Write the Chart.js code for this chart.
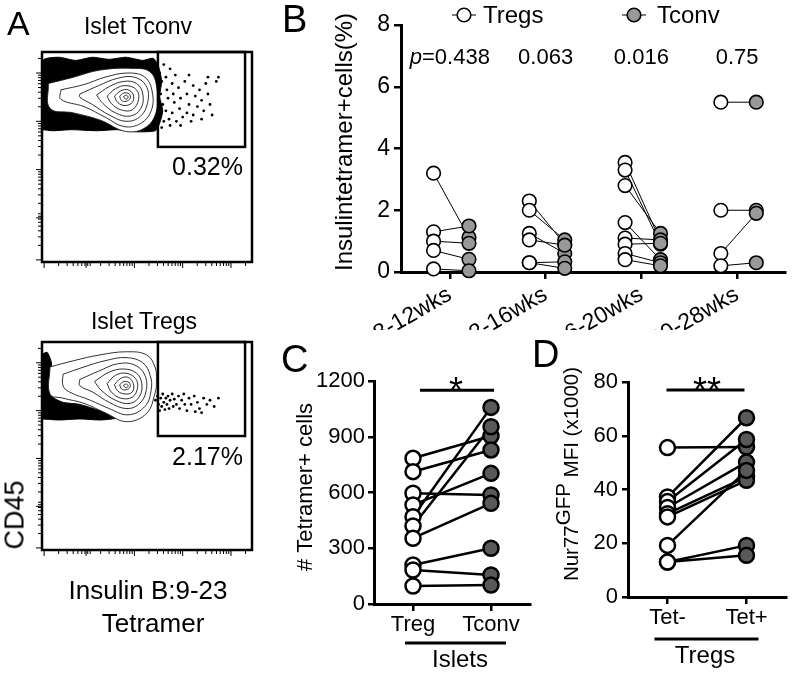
<!DOCTYPE html>
<html lang="en">
  <head>
    <meta charset="UTF-8" />
    <title>Insulin tetramer+ Tregs and Tconv</title>
    <script src="https://cdn.jsdelivr.net/npm/chart.js@4.4.1/dist/chart.umd.min.js"></script>
  </head>

  <style>
    html,
    body {
      margin: 0;
      padding: 0;
      background: #fff;
    }
    body {
      position: relative;
      width: 796px;
      height: 676px;
      overflow: hidden;
      color: #000;
      font-family: "Liberation Sans", Arial, sans-serif;
    }
    canvas {
      position: absolute;
    }
    .lbl {
      position: absolute;
      white-space: nowrap;
      line-height: 1;
    }
  </style>

  <body>
    <canvas id="flowTconv" width="270" height="300" style="left: 0; top: 0"></canvas>
    <canvas id="flowTreg" width="270" height="300" style="left: 0; top: 290px"></canvas>
    <canvas id="chartB" width="526" height="330" style="left: 270px; top: 0"></canvas>
    <canvas id="chartC" width="270" height="346" style="left: 270px; top: 330px"></canvas>
    <canvas id="chartD" width="256" height="346" style="left: 540px; top: 330px"></canvas>

    <div class="lbl" style="left: 7px; top: 6px; font-size: 34px">A</div>
    <div class="lbl" style="left: 282px; top: 0px; font-size: 38px">B</div>
    <div class="lbl" style="left: 281px; top: 340px; font-size: 38px">C</div>
    <div class="lbl" style="left: 532px; top: 335px; font-size: 38px">D</div>

    <div class="lbl" style="left: 138px; top: 15px; font-size: 23px; transform: translateX(-50%)">Islet Tconv</div>
    <div class="lbl" style="left: 243px; top: 154px; font-size: 25px; transform: translateX(-100%)">0.32%</div>
    <div class="lbl" style="left: 144px; top: 310px; font-size: 23px; transform: translateX(-50%)">Islet Tregs</div>
    <div class="lbl" style="left: 243px; top: 444px; font-size: 25px; transform: translateX(-100%)">2.17%</div>
    <div class="lbl" style="left: 15px; top: 515px; font-size: 27px; transform: translate(-50%, -50%) rotate(-90deg)">CD45</div>
    <div class="lbl" style="left: 148px; top: 577px; font-size: 26px; transform: translateX(-50%)">Insulin B:9-23</div>
    <div class="lbl" style="left: 153px; top: 610px; font-size: 26px; transform: translateX(-50%)">Tetramer</div>

    <script>
      const FONT = '"Liberation Sans", Arial, sans-serif';
      Chart.defaults.font.family = FONT;
      Chart.defaults.color = "#000";

      // ---------- A: flow plots (display units 0-100, x = tetramer, y = CD45) ----------
      const flowDecades = [1, 21, 44, 67, 90];
      const flowGate = { x: [55.2, 96.7], y: [54.8, 100] };

      const tconvDense = [
        [0.5, 63], [0.5, 96], [8, 97.5], [16, 96], [24, 97.5], [32, 96.5], [40, 97.5], [48, 96],
        [53, 97], [55.5, 93], [57, 86], [56, 79], [57.5, 72], [56, 66], [54, 62.5], [45, 62],
        [36, 63], [26, 62.5], [14, 63], [5, 62.5],
      ];
      const tconvContours = [
        [[3, 85], [15, 88], [27.6, 91.4], [43.5, 92.2], [51.4, 90.6], [54.6, 83.5], [54.6, 72.4], [49.8, 64.4], [40.3, 62.1], [27.6, 67.6], [15, 71], [3.8, 73.2]],
        [[9, 82], [20, 84.5], [30, 88], [41, 90], [49, 88], [52.5, 81], [52, 72], [47, 66], [39, 64.5], [30, 69], [20, 74], [9, 77.5]],
        [[18, 80], [27, 84], [36, 87.5], [44, 88], [49.5, 84], [50.5, 77], [47, 69.5], [40, 67], [32, 70], [24, 75], [18, 78.5]],
        [[26, 79.5], [32, 83.5], [39, 86], [45, 85], [48, 80], [47, 73], [42, 69.5], [35, 71], [29, 75.5]],
        [[31, 79], [35, 82.5], [40, 84], [45, 82], [46, 77.5], [43, 72.5], [37.5, 72.5], [33, 75.5]],
        [[34.5, 79], [37.5, 81.5], [41, 82], [43.5, 79.5], [43, 76], [39.5, 74.5], [36, 76]],
        [[37, 79], [39, 80.5], [41.5, 80], [42, 78], [40, 76.5], [37.8, 77]],
        [[38.8, 78.8], [40.2, 79.4], [41, 78.4], [40, 77.5]],
      ];
      const tconvGateEvents = [
        [56, 90], [57, 86], [56.5, 80], [57.5, 75], [56, 70], [58, 67], [57, 64], [59, 88], [59.5, 82],
        [60, 78], [59, 72], [60.5, 68], [61, 65], [62, 85], [62.5, 80], [63, 76], [62, 71], [64, 67],
        [63.5, 89], [65, 83], [66, 78], [65.5, 73], [67, 69], [66, 65], [68, 86], [69, 80], [70, 75],
        [69, 71], [71, 67], [72, 84], [73, 79], [74, 74], [72, 70], [75, 82], [76, 77], [77, 72],
        [76, 68], [78, 85], [79, 80], [80, 75], [81, 70], [83, 86], [84, 88], [79, 88], [70, 89],
        [61, 92], [58, 94],
      ];

      const tregDense = [
        [0.3, 63], [0.3, 94], [2.5, 95], [4.5, 90], [4, 82], [4.5, 74], [10, 71], [18, 70],
        [26, 67.5], [33, 65], [36, 63.5], [28, 62.5], [18, 63], [8, 62.5],
      ];
      const tregContours = [
        [[3.8, 88], [15, 91], [27.6, 93.8], [40.3, 95.3], [49.8, 93.8], [53.8, 88], [54.5, 81], [53.8, 75.3], [49.8, 65.7], [40.3, 61.7], [30, 66], [20, 70.5], [10, 73], [3.8, 75]],
        [[10, 84.5], [20, 88], [30, 91], [40, 92.5], [48, 90], [51.5, 84], [52, 77], [49, 69], [41, 65], [32, 68], [23, 72], [13, 76], [10, 79]],
        [[18, 82], [27, 86], [36, 89.5], [44, 89], [49, 84], [49.5, 76], [46, 70], [40, 68], [32, 71], [24, 76], [18, 79]],
        [[25, 81], [32, 85.5], [39, 87], [45, 85], [47.5, 80], [46.5, 74], [42, 70.5], [35, 72], [28, 77]],
        [[31, 80], [35, 84], [40, 85], [44.5, 82.5], [45.5, 78], [43, 73.5], [37.5, 73], [33, 76]],
        [[34.5, 79.5], [37.5, 82.5], [41, 83], [43.5, 80], [43, 76], [39.5, 75], [36, 76.5]],
        [[37, 79.5], [39, 81], [41.5, 80.5], [42, 78.5], [40, 77], [37.8, 77.5]],
        [[38.8, 79.2], [40.2, 79.8], [41, 78.8], [40, 78]],
      ];
      const tregGateEvents = [
        [54, 72], [55, 74], [55.5, 70], [56, 67], [56.5, 73], [57, 69], [57.5, 75], [58, 71],
        [58.5, 67.5], [59, 73], [59.5, 70], [60, 74], [60.5, 68], [61, 72], [62, 75], [62.5, 69],
        [63, 72.5], [64, 70], [65, 74], [65.5, 68], [66.5, 72], [67.5, 75], [68, 70], [69, 67],
        [70, 73], [71, 70], [72.5, 74], [74, 71], [75, 68], [77, 73], [78.5, 70], [80, 72],
        [82, 69], [76, 66], [73, 66.5], [84, 73],
      ];

      // ---------- B: % insulin-tetramer+ cells, Treg[i] paired with Tconv[i] ----------
      const bGroups = ["8-12wks", "12-16wks", "16-20wks", "20-28wks"];
      const bPvals = ["0.438", "0.063", "0.016", "0.75"];
      const bTreg = [
        [3.2, 1.3, 1.0, 0.7, 0.1],
        [2.3, 2.0, 1.25, 1.04, 0.3, 0.3],
        [3.55, 3.3, 2.8, 1.6, 1.1, 0.9, 0.6, 0.4],
        [5.5, 2.0, 0.6, 0.2],
      ];
      const bTconv = [
        [1.12, 1.49, 0.93, 0.41, 0.04],
        [0.9, 1.04, 0.6, 0.87, 0.33, 0.12],
        [1.0, 0.9, 1.25, 0.4, 1.04, 0.93, 0.3, 0.2],
        [5.5, 2.0, 1.9, 0.3],
      ];

      // ---------- C: # tetramer+ cells in islets ----------
      const cLabels = ["Treg", "Tconv"];
      const cTreg = [784, 712, 596, 533, 470, 420, 354, 210, 183, 97];
      const cTconv = [904, 829, 587, 703, 1058, 954, 542, 300, 156, 102];

      // ---------- D: Nur77-GFP MFI (x1000) in Tregs ----------
      const dLabels = ["Tet-", "Tet+"];
      const dTetNeg = [55.6, 37.2, 35.5, 33.3, 31, 29.8, 19.2, 13, 13];
      const dTetPos = [55.8, 66.7, 58.6, 50.2, 44.7, 43.4, 47.1, 19.2, 15.5];

      // ---------- helpers ----------
      const pts = (arr) => arr.map(([x, y]) => ({ x, y }));
      const closed = (arr) => arr.concat([arr[0]]);

      function vText(ctx, parts, x, yCenter) {
        ctx.save();
        ctx.translate(x, yCenter);
        ctx.rotate(-Math.PI / 2);
        ctx.textBaseline = "alphabetic";
        ctx.textAlign = "left";
        ctx.fillStyle = "#000";
        let total = 0;
        parts.forEach((p) => {
          ctx.font = p.font;
          p.w = ctx.measureText(p.t).width;
          total += p.w;
        });
        let cx = -total / 2;
        parts.forEach((p) => {
          ctx.font = p.font;
          ctx.fillText(p.t, cx, -(p.rise || 0));
          cx += p.w;
        });
        ctx.restore();
      }

      function hText(ctx, parts, xCenter, y) {
        ctx.save();
        ctx.textBaseline = "alphabetic";
        ctx.textAlign = "left";
        ctx.fillStyle = "#000";
        let total = 0;
        parts.forEach((p) => {
          ctx.font = p.font;
          p.w = ctx.measureText(p.t).width;
          total += p.w;
        });
        let cx = xCenter - total / 2;
        parts.forEach((p) => {
          ctx.font = p.font;
          ctx.fillText(p.t, cx, y);
          cx += p.w;
        });
        ctx.restore();
      }

      function hLine(ctx, x1, x2, y, w) {
        ctx.save();
        ctx.strokeStyle = "#000";
        ctx.lineWidth = w;
        ctx.beginPath();
        ctx.moveTo(x1, y);
        ctx.lineTo(x2, y);
        ctx.stroke();
        ctx.restore();
      }

      // frame, gate and log-decade ticks of a flow plot
      const flowFrame = {
        id: "flowFrame",
        afterDatasetsDraw(chart) {
          const { ctx, chartArea: a, scales } = chart;
          const x = scales.x, y = scales.y;
          ctx.save();
          ctx.strokeStyle = "#000";
          ctx.lineWidth = 1;
          flowDecades.forEach((d) => {
            for (let k = 1; k <= 9; k++) {
              const v = d + 23 * Math.log10(k);
              if (v > 100) break;
              const len = k === 1 ? 5 : 3;
              const px = x.getPixelForValue(v);
              const py = y.getPixelForValue(v);
              ctx.beginPath();
              ctx.moveTo(px, a.bottom + 1);
              ctx.lineTo(px, a.bottom + 1 + len);
              ctx.moveTo(a.left - 1, py);
              ctx.lineTo(a.left - 1 - len, py);
              ctx.stroke();
            }
          });
          ctx.lineWidth = 2.5;
          ctx.strokeRect(a.left, a.top, a.width, a.height);
          const gx0 = x.getPixelForValue(flowGate.x[0]);
          const gx1 = x.getPixelForValue(flowGate.x[1]);
          const gy0 = y.getPixelForValue(flowGate.y[0]);
          const gy1 = y.getPixelForValue(flowGate.y[1]);
          ctx.strokeRect(gx0, gy1, gx1 - gx0, gy0 - gy1);
          ctx.restore();
        },
      };

      function flowChart(id, dense, contours, events, pad) {
        const datasets = [
          {
            data: pts(closed(dense)),
            showLine: true,
            fill: "shape",
            backgroundColor: "#000",
            borderColor: "#000",
            borderWidth: 1,
            pointRadius: 0,
            tension: 0.2,
            order: 30,
          },
        ];
        contours.forEach((ring, i) => {
          datasets.push({
            data: pts(closed(ring)),
            showLine: true,
            fill: i === 0 ? "shape" : false,
            backgroundColor: "#fff",
            borderColor: "#1a1a1a",
            borderWidth: 0.9,
            pointRadius: 0,
            tension: 0.4,
            order: 20 - i,
          });
        });
        datasets.push({
          data: pts(events),
          pointRadius: 1.4,
          pointBackgroundColor: "#000",
          pointBorderWidth: 0,
          order: 0,
        });
        return new Chart(document.getElementById(id), {
          type: "scatter",
          data: { datasets },
          options: {
            responsive: false,
            animation: false,
            events: [],
            layout: { padding: pad },
            plugins: { legend: { display: false }, tooltip: { enabled: false } },
            scales: {
              x: { type: "linear", min: 0, max: 100, display: false },
              y: { type: "linear", min: 0, max: 100, display: false },
            },
          },
          plugins: [flowFrame],
        });
      }

      flowChart("flowTconv", tconvDense, tconvContours, tconvGateEvents, { left: 42, right: 18, top: 52, bottom: 38 });
      flowChart("flowTreg", tregDense, tregContours, tregGateEvents, { left: 42, right: 18, top: 52, bottom: 40 });

      // common axis styling for B, C, D
      const axisGrid = (len) => ({ drawOnChartArea: false, drawTicks: true, tickLength: len, color: "#000", lineWidth: 2.5 });
      const axisBorder = { display: true, color: "#000", width: 3 };
      const plainNumber = (v) => String(v);

      // ---------- B ----------
      const bDatasets = [];
      bTreg.forEach((vals, g) => {
        vals.forEach((v, i) => {
          bDatasets.push({
            data: [
              { x: g + 1 - 0.17, y: v },
              { x: g + 1 + 0.2, y: bTconv[g][i] },
            ],
            showLine: true,
            borderColor: "#000",
            borderWidth: 1,
            pointRadius: 0,
            clip: false,
            order: 2,
          });
        });
      });
      bDatasets.push({
        label: "Tregs",
        data: bTreg.flatMap((vals, g) => vals.map((v) => ({ x: g + 1 - 0.17, y: v }))),
        pointRadius: 6.8,
        pointBackgroundColor: "#fff",
        pointBorderColor: "#000",
        pointBorderWidth: 1.6,
        clip: false,
        order: 0,
      });
      bDatasets.push({
        label: "Tconv",
        data: bTconv.flatMap((vals, g) => vals.map((v) => ({ x: g + 1 + 0.2, y: v }))),
        pointRadius: 6.8,
        pointBackgroundColor: "#999",
        pointBorderColor: "#000",
        pointBorderWidth: 1.6,
        clip: false,
        order: 1,
      });

      const bNotes = {
        id: "bNotes",
        afterDraw(chart) {
          const { ctx, scales } = chart;
          // legend
          const legend = [
            { name: "Tregs", fill: "#fff", cx: 194, tx: 213 },
            { name: "Tconv", fill: "#999", cx: 364, tx: 387 },
          ];
          ctx.save();
          legend.forEach((l) => {
            hLine(ctx, l.cx - 12, l.cx + 12, 15, 1);
            ctx.beginPath();
            ctx.arc(l.cx, 15, 6.8, 0, Math.PI * 2);
            ctx.fillStyle = l.fill;
            ctx.fill();
            ctx.lineWidth = 1.6;
            ctx.strokeStyle = "#000";
            ctx.stroke();
            ctx.fillStyle = "#000";
            ctx.font = "24px " + FONT;
            ctx.textBaseline = "alphabetic";
            ctx.textAlign = "left";
            ctx.fillText(l.name, l.tx, 23);
          });
          ctx.restore();
          // p values
          const py = scales.y.getPixelForValue(6.75);
          bPvals.forEach((p, g) => {
            const parts = g === 0
              ? [{ t: "p", font: "italic 22px " + FONT }, { t: "=" + p, font: "22px " + FONT }]
              : [{ t: p, font: "22px " + FONT }];
            hText(ctx, parts, scales.x.getPixelForValue(g + 1), py);
          });
          vText(ctx, [{ t: "Insulintetramer+cells(%)", font: "24px " + FONT }], 82, 142);
        },
      };

      new Chart(document.getElementById("chartB"), {
        type: "scatter",
        data: { datasets: bDatasets },
        options: {
          responsive: false,
          animation: false,
          events: [],
          layout: { padding: { top: 25, right: 11, left: 0, bottom: 0 } },
          plugins: { legend: { display: false }, tooltip: { enabled: false } },
          scales: {
            x: {
              type: "linear",
              min: 0.49,
              max: 4.5,
              afterBuildTicks: (s) => {
                s.ticks = bGroups.map((g, i) => ({ value: i + 1 }));
              },
              afterFit: (s) => {
                s.height = 58;
              },
              ticks: {
                callback: (v) => bGroups[v - 1],
                minRotation: 30,
                maxRotation: 30,
                autoSkip: false,
                padding: 2,
                font: { size: 23 },
              },
              grid: axisGrid(7),
              border: axisBorder,
            },
            y: {
              min: 0,
              max: 8,
              afterFit: (s) => {
                s.width = 131;
              },
              ticks: { stepSize: 2, padding: 4, font: { size: 23 }, callback: plainNumber },
              grid: axisGrid(7),
              border: axisBorder,
            },
          },
        },
        plugins: [bNotes],
      });

      // ---------- C and D: paired before/after plots ----------
      function pairedDatasets(left, right, rightFill) {
        const ds = left.map((v, i) => ({
          data: [
            { x: 1, y: v },
            { x: 2, y: right[i] },
          ],
          showLine: true,
          borderColor: "#000",
          borderWidth: 2.5,
          pointRadius: 0,
          clip: false,
          order: 2,
        }));
        ds.push({
          data: left.map((v) => ({ x: 1, y: v })),
          pointRadius: 7.5,
          pointBackgroundColor: "#fff",
          pointBorderColor: "#000",
          pointBorderWidth: 2.5,
          clip: false,
          order: 0,
        });
        ds.push({
          data: right.map((v) => ({ x: 2, y: v })),
          pointRadius: 7.5,
          pointBackgroundColor: rightFill,
          pointBorderColor: "#000",
          pointBorderWidth: 2.5,
          clip: false,
          order: 1,
        });
        return ds;
      }

      function pairedChart(id, datasets, labels, yOpts, yWidth, xHeight, pad, notes) {
        return new Chart(document.getElementById(id), {
          type: "scatter",
          data: { datasets },
          options: {
            responsive: false,
            animation: false,
            events: [],
            layout: { padding: pad },
            plugins: { legend: { display: false }, tooltip: { enabled: false } },
            scales: {
              x: {
                type: "linear",
                min: 0.5,
                max: 2.5,
                afterBuildTicks: (s) => {
                  s.ticks = labels.map((l, i) => ({ value: i + 1 }));
                },
                afterFit: (s) => {
                  s.height = xHeight;
                },
                ticks: { callback: (v) => labels[v - 1], autoSkip: false, maxRotation: 0, padding: 1, font: { size: 22 } },
                grid: axisGrid(7),
                border: axisBorder,
              },
              y: Object.assign(
                {
                  afterFit: (s) => {
                    s.width = yWidth;
                  },
                  grid: axisGrid(6),
                  border: axisBorder,
                },
                yOpts
              ),
            },
          },
          plugins: [notes],
        });
      }

      const cNotes = {
        id: "cNotes",
        afterDraw(chart) {
          const { ctx, scales } = chart;
          const x1 = scales.x.getPixelForValue(1);
          const x2 = scales.x.getPixelForValue(2);
          const ys = scales.y.getPixelForValue(1150);
          hLine(ctx, x1 + 7, x2 + 3, ys, 3);
          hText(ctx, [{ t: "*", font: "36px " + FONT }], (x1 + x2) / 2 + 4, ys + 13);
          hLine(ctx, x1 - 8, x2 + 15, 313, 3);
          hText(ctx, [{ t: "Islets", font: "24px " + FONT }], 190, 337);
          vText(ctx, [{ t: "# Tetramer+ cells", font: "22px " + FONT }], 42, 157);
        },
      };

      const dNotes = {
        id: "dNotes",
        afterDraw(chart) {
          const { ctx, scales } = chart;
          const x1 = scales.x.getPixelForValue(1);
          const x2 = scales.x.getPixelForValue(2);
          const ys = scales.y.getPixelForValue(77);
          hLine(ctx, x1 - 1, x2 - 2, ys, 3);
          hText(ctx, [{ t: "**", font: "36px " + FONT }], (x1 + x2) / 2, ys + 13);
          hLine(ctx, x1 - 13, x2 + 12, 309, 3);
          hText(ctx, [{ t: "Tregs", font: "24px " + FONT }], 165, 333);
          vText(
            ctx,
            [
              { t: "Nur77", font: "20.5px " + FONT },
              { t: "GFP", font: "20.5px " + FONT, rise: 8 },
              { t: " MFI (x1000)", font: "20.5px " + FONT },
            ],
            38,
            144
          );
        },
      };

      pairedChart(
        "chartC",
        pairedDatasets(cTreg, cTconv, "#595959"),
        cLabels,
        { min: 0, max: 1200, ticks: { stepSize: 300, padding: 3, font: { size: 22 }, callback: plainNumber } },
        104,
        72,
        { top: 51, right: 0, left: 0, bottom: 0 },
        cNotes
      );

      pairedChart(
        "chartD",
        pairedDatasets(dTetNeg, dTetPos, "#595959"),
        dLabels,
        { min: 0, max: 80, ticks: { stepSize: 20, padding: 4, font: { size: 22 }, callback: plainNumber } },
        88,
        79,
        { top: 52, right: 4, left: 0, bottom: 0 },
        dNotes
      );
    </script>
  </body>
</html>
